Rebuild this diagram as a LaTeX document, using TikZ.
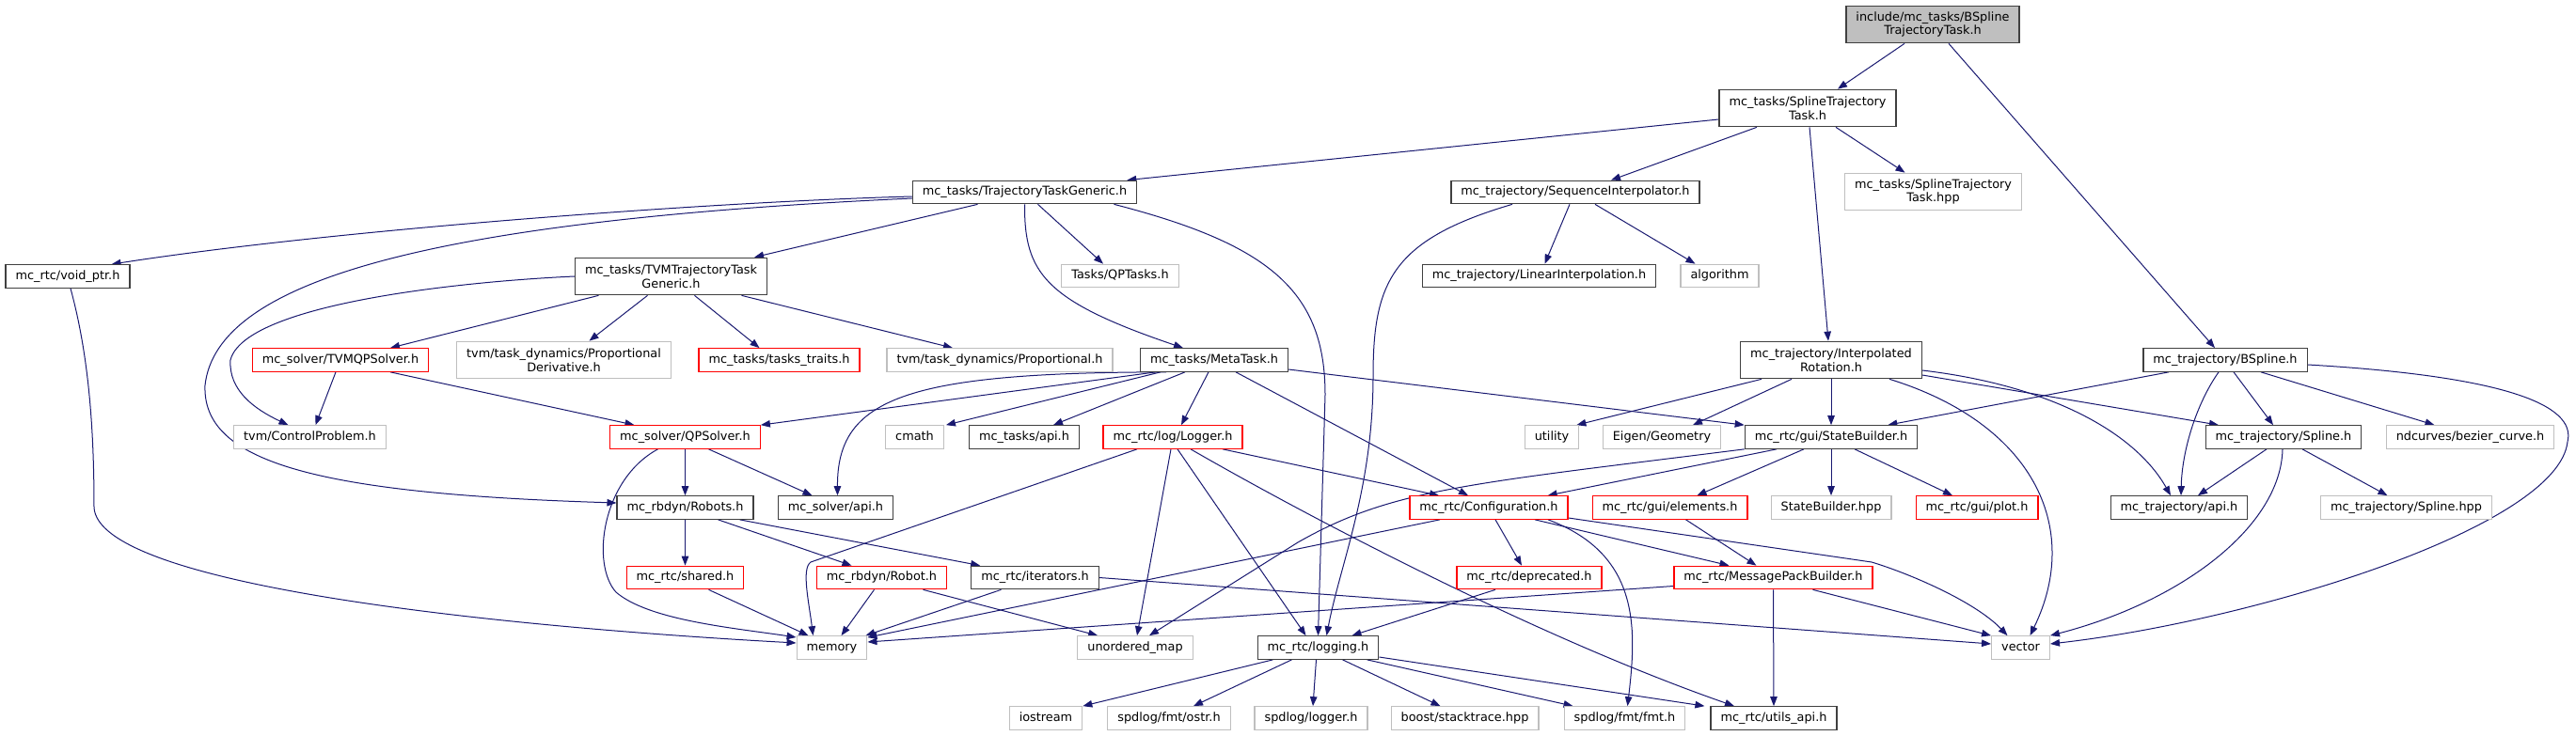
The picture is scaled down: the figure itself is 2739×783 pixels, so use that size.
\documentclass[tikz,border=0pt]{standalone}
\usepackage{fontspec}
\setmainfont{DejaVu Sans}
\usepackage{tikz}
\usetikzlibrary{arrows.meta,backgrounds}
\definecolor{doxyedge}{RGB}{25,25,112}
\definecolor{doxygray}{RGB}{191,191,191}
\definecolor{doxyred}{RGB}{255,0,0}
\definecolor{doxydark}{RGB}{64,64,64}

\tikzset{
  hdrbase/.style={draw=doxydark,line width=1.2pt,fill=white,inner xsep=10.5pt,inner ysep=2pt,
    font=\fontsize{12.85pt}{14.5pt}\selectfont,align=center},
  hdr/.style={hdrbase,minimum height=24.5pt,text height=9.5pt,text depth=3pt},
  syshdr/.style={hdr,draw=doxygray},
  redhdr/.style={hdr,draw=doxyred},
  hdrtwo/.style={hdrbase,minimum height=39.5pt},
  syshdrtwo/.style={hdrtwo,draw=doxygray},
  roothdr/.style={hdrtwo,fill=doxygray},
  inc/.style={doxyedge,line width=1pt,-{Triangle[length=10pt,width=7.5pt]}}
}

\begin{document}
\begin{tikzpicture}[x=1pt,y=-1pt]
  \useasboundingbox (0,0) rectangle (2739,783);
  % files, row by row
  \node[roothdr] (root) at (2055,26) {include/mc\_tasks/BSpline\\TrajectoryTask.h};
  \node[hdrtwo] (splTask) at (1922,115) {mc\_tasks/SplineTrajectory\\Task.h};
  \node[hdr] (ttg) at (1089.5,204.5) {mc\_tasks/TrajectoryTaskGeneric.h};
  \node[hdr] (seqInt) at (1675,204.5) {mc\_trajectory/SequenceInterpolator.h};
  \node[syshdrtwo] (splTaskHpp) at (2055.5,204) {mc\_tasks/SplineTrajectory\\Task.hpp};
  \node[hdr] (voidPtr) at (72,294) {mc\_rtc/void\_ptr.h};
  \node[hdrtwo] (tvmTTG) at (713.5,294) {mc\_tasks/TVMTrajectoryTask\\Generic.h};
  \node[syshdr] (qpTasks) at (1191,293.5) {Tasks/QPTasks.h};
  \node[hdr] (linInt) at (1636.5,293.5) {mc\_trajectory/LinearInterpolation.h};
  \node[syshdr] (algorithm) at (1828.5,293.5) {algorithm};
  \node[redhdr] (tvmQP) at (362,383) {mc\_solver/TVMQPSolver.h};
  \node[syshdrtwo] (propDeriv) at (599.5,383) {tvm/task\_dynamics/Proportional\\Derivative.h};
  \node[redhdr] (tasksTraits) at (828.5,383) {mc\_tasks/tasks\_traits.h};
  \node[syshdr] (prop) at (1063,383) {tvm/task\_dynamics/Proportional.h};
  \node[hdr] (metaTask) at (1291,383) {mc\_tasks/MetaTask.h};
  \node[hdrtwo] (interpRot) at (1947,383) {mc\_trajectory/Interpolated\\Rotation.h};
  \node[hdr] (bspline) at (2366,383) {mc\_trajectory/BSpline.h};
  \node[syshdr] (ctrlProb) at (329.5,465) {tvm/ControlProblem.h};
  \node[redhdr] (qpSolver) at (728.5,465) {mc\_solver/QPSolver.h};
  \node[syshdr] (cmath) at (972.5,465) {cmath};
  \node[hdr] (tasksApi) at (1089,465) {mc\_tasks/api.h};
  \node[redhdr] (logger) at (1247,465) {mc\_rtc/log/Logger.h};
  \node[syshdr] (utility) at (1650,465) {utility};
  \node[syshdr] (eigen) at (1767,465) {Eigen/Geometry};
  \node[hdr] (stateBuilder) at (1947,465) {mc\_rtc/gui/StateBuilder.h};
  \node[hdr] (spline) at (2428,465) {mc\_trajectory/Spline.h};
  \node[syshdr] (bezier) at (2626.5,465) {ndcurves/bezier\_curve.h};
  \node[hdr] (robots) at (728.5,540) {mc\_rbdyn/Robots.h};
  \node[hdr] (solverApi) at (888.5,540) {mc\_solver/api.h};
  \node[redhdr] (config) at (1583,540) {mc\_rtc/Configuration.h};
  \node[redhdr] (elements) at (1775.5,540) {mc\_rtc/gui/elements.h};
  \node[syshdr] (sbHpp) at (1947,540) {StateBuilder.hpp};
  \node[redhdr] (plot) at (2102,540) {mc\_rtc/gui/plot.h};
  \node[hdr] (trajApi) at (2317,540) {mc\_trajectory/api.h};
  \node[syshdr] (splineHpp) at (2558.5,540) {mc\_trajectory/Spline.hpp};
  \node[redhdr] (shared) at (728.5,614.5) {mc\_rtc/shared.h};
  \node[redhdr] (robot) at (937.5,614.5) {mc\_rbdyn/Robot.h};
  \node[hdr] (iterators) at (1100.5,614.5) {mc\_rtc/iterators.h};
  \node[redhdr] (deprecated) at (1626,614.5) {mc\_rtc/deprecated.h};
  \node[redhdr] (msgPack) at (1885.5,614.5) {mc\_rtc/MessagePackBuilder.h};
  \node[syshdr] (memory) at (884.5,689) {memory};
  \node[syshdr] (unordMap) at (1207,689) {unordered\_map};
  \node[hdr] (logging) at (1401.5,689) {mc\_rtc/logging.h};
  \node[syshdr] (vector) at (2148.5,689) {vector};
  \node[syshdr] (iostream) at (1112,764) {iostream};
  \node[syshdr] (ostr) at (1243,764) {spdlog/fmt/ostr.h};
  \node[syshdr] (spdLogger) at (1394,764) {spdlog/logger.h};
  \node[syshdr] (stacktrace) at (1557.5,764) {boost/stacktrace.hpp};
  \node[syshdr] (fmt) at (1727.5,764) {spdlog/fmt/fmt.h};
  \node[hdr] (utilsApi) at (1886,764) {mc\_rtc/utils\_api.h};

  \begin{scope}[on background layer]
    % top levels
    \draw[inc] ([xshift=-30pt]root.south) -- ([xshift=32pt]splTask.north);
    \draw[inc] ([xshift=17pt]root.south) -- ([xshift=-11pt]bspline.north);
    \draw[inc] ([yshift=-12pt]splTask.west) -- ([xshift=-11pt]ttg.north east);
    \draw[inc] ([xshift=-54pt]splTask.south) -- ([xshift=38pt]seqInt.north);
    \draw[inc] ([xshift=30pt]splTask.south) -- ([xshift=-30pt]splTaskHpp.north);
    \draw[inc] ([xshift=2pt]splTask.south) -- ([xshift=-3pt]interpRot.north);
    % TrajectoryTaskGeneric
    \draw[inc] ([yshift=-4.5pt]ttg.west) .. controls (750,215) and (350,245) .. ([xshift=-20pt]voidPtr.north east);
    \draw[inc] ([yshift=-6.5pt]ttg.west) .. controls (450,235) and (230,300) .. (218,410)
      .. controls (215,490) and (330,525) .. ([yshift=5pt]robots.west);
    \draw[inc] ([xshift=-50pt]ttg.south) -- ([xshift=-14pt]tvmTTG.north east);
    \draw[inc] ([xshift=14pt]ttg.south) -- ([xshift=-18pt]qpTasks.north);
    \draw[inc] (ttg.south) .. controls (1089,290) and (1110,320) .. ([xshift=-33pt]metaTask.north);
    \draw[inc] ([xshift=95pt]ttg.south) .. controls (1350,260) and (1409,310) .. (1409,420) -- (logging.north);
    % SequenceInterpolator
    \draw[inc] ([xshift=-67pt]seqInt.south) .. controls (1480,255) and (1460,300) .. (1460,400)
      .. controls (1460,520) and (1425,600) .. ([xshift=9pt]logging.north);
    \draw[inc] ([xshift=-6pt]seqInt.south) -- ([xshift=6pt]linInt.north);
    \draw[inc] ([xshift=21pt]seqInt.south) -- ([xshift=-26pt]algorithm.north);
    % TVMTrajectoryTaskGeneric
    \draw[inc] ([xshift=-77pt]tvmTTG.south) -- ([xshift=53pt]tvmQP.north);
    \draw[inc] ([xshift=-25pt]tvmTTG.south) -- ([xshift=27pt]propDeriv.north);
    \draw[inc] ([xshift=25pt]tvmTTG.south) -- ([xshift=-21pt]tasksTraits.north);
    \draw[inc] ([xshift=75pt]tvmTTG.south) -- ([xshift=-50pt]prop.north);
    \draw[inc] (tvmTTG.west) .. controls (480,300) and (260,325) .. (245,383)
      .. controls (243,415) and (270,435) .. ([xshift=-23pt]ctrlProb.north);
    \draw[inc] ([xshift=-5pt]tvmQP.south) -- ([xshift=6pt]ctrlProb.north);
    \draw[inc] ([xshift=53pt]tvmQP.south) -- ([xshift=-54pt]qpSolver.north);
    \draw[inc] ([xshift=3pt]voidPtr.south) .. controls (95,380) and (100,460) .. (100,540)
      .. controls (105,620) and (500,665) .. ([yshift=5pt]memory.west);
    % MetaTask
    \draw[inc] ([xshift=-62pt]metaTask.south) -- (qpSolver.north east);
    \draw[inc] ([xshift=-57pt]metaTask.south) -- ([xshift=2pt]cmath.north east);
    \draw[inc] ([xshift=-31pt]metaTask.south) -- ([xshift=31pt]tasksApi.north);
    \draw[inc] ([xshift=-6pt]metaTask.south) -- ([xshift=9pt]logger.north);
    \draw[inc] ([xshift=-51pt]metaTask.south) .. controls (960,396) and (890,425) .. ([xshift=2pt]solverApi.north);
    \draw[inc] ([xshift=23pt]metaTask.south) -- ([xshift=-22pt]config.north);
    \draw[inc] ([yshift=-10pt]metaTask.east) -- (stateBuilder.north west);
    % InterpolatedRotation
    \draw[inc] ([xshift=-74pt]interpRot.south) -- ([xshift=-3pt]utility.north east);
    \draw[inc] ([xshift=-42pt]interpRot.south) -- ([xshift=33pt]eigen.north);
    \draw[inc] (interpRot.south) -- (stateBuilder.north);
    \draw[inc] ([yshift=-16pt]interpRot.east) -- ([xshift=-69pt]spline.north);
    \draw[inc] ([yshift=-11pt]interpRot.east) .. controls (2180,410) and (2270,460) .. ([xshift=-9pt]trajApi.north);
    \draw[inc] ([xshift=62pt]interpRot.south) .. controls (2160,450) and (2215,560) .. ([xshift=10pt]vector.north);
    % BSpline
    \draw[inc] ([xshift=-60pt]bspline.south) -- ([xshift=-32pt]stateBuilder.north east);
    \draw[inc] ([xshift=-7pt]bspline.south) .. controls (2335,430) and (2320,480) .. ([xshift=2pt]trajApi.north);
    \draw[inc] ([xshift=9pt]bspline.south) -- ([xshift=-11pt]spline.north);
    \draw[inc] ([xshift=38pt]bspline.south) -- ([xshift=-38pt]bezier.north);
    \draw[inc] ([yshift=-5pt]bspline.east) .. controls (2660,400) and (2740,430) .. (2730,470)
      .. controls (2720,560) and (2400,660) .. ([yshift=4pt]vector.east);
    % QPSolver and robots
    \draw[inc] (qpSolver.south) -- (robots.north);
    \draw[inc] ([xshift=25pt]qpSolver.south) -- ([xshift=-25pt]solverApi.north);
    \draw[inc] ([xshift=-29pt]qpSolver.south) .. controls (640,510) and (628,600) .. (655,630)
      .. controls (690,660) and (780,668) .. ([yshift=11pt]memory.west);
    \draw[inc] (robots.south) -- (shared.north);
    \draw[inc] ([xshift=35pt]robots.south) -- ([xshift=-32pt]robot.north);
    \draw[inc] ([xshift=58pt]robots.south) -- ([xshift=10pt]iterators.north west);
    \draw[inc] ([xshift=25pt]shared.south) -- ([xshift=13pt]memory.north west);
    \draw[inc] ([xshift=-8pt]robot.south) -- ([xshift=10pt]memory.north);
    \draw[inc] ([xshift=44pt]robot.south) -- ([xshift=22pt]unordMap.north west);
    \draw[inc] ([xshift=-36pt]iterators.south) -- ([xshift=-2pt]memory.north east);
    \draw[inc] (iterators.east) -- ([yshift=4pt]vector.west);
    % Logger
    \draw[inc] ([xshift=-38pt]logger.south) -- (862,598) .. controls (852,605) and (860,640) .. ([xshift=-20pt]memory.north);
    \draw[inc] ([xshift=-2pt]logger.south) -- ([xshift=2pt]unordMap.north);
    \draw[inc] ([xshift=5pt]logger.south) -- ([xshift=-13pt]logging.north);
    \draw[inc] ([xshift=53pt]logger.south) -- ([xshift=-53pt]config.north);
    \draw[inc] ([xshift=19pt]logger.south) .. controls (1400,555) and (1640,680) .. ([xshift=-42pt]utilsApi.north);
    % StateBuilder
    \draw[inc] ([xshift=-58pt]stateBuilder.south) -- ([xshift=-22pt]config.north east);
    \draw[inc] (stateBuilder.south west) .. controls (1560,515) and (1480,520) .. (1380,577) -- ([xshift=15pt]unordMap.north);
    \draw[inc] ([xshift=-29pt]stateBuilder.south) -- ([xshift=29pt]elements.north);
    \draw[inc] (stateBuilder.south) -- (sbHpp.north);
    \draw[inc] ([xshift=25pt]stateBuilder.south) -- ([xshift=-26pt]plot.north);
    % Spline
    \draw[inc] ([xshift=-18pt]spline.south) -- ([xshift=20pt]trajApi.north);
    \draw[inc] ([xshift=20pt]spline.south) -- ([xshift=-20pt]splineHpp.north);
    \draw[inc] ([xshift=-1pt]spline.south) .. controls (2425,560) and (2320,640) .. (vector.north east);
    % Configuration
    \draw[inc] ([xshift=7pt]config.south) -- ([xshift=-8pt]deprecated.north);
    \draw[inc] ([xshift=49pt]config.south) -- ([xshift=-47pt]msgPack.north);
    \draw[inc] ([xshift=63pt]config.south) .. controls (1745,590) and (1740,670) .. ([xshift=3pt]fmt.north);
    \draw[inc] ([yshift=-11pt]config.east) -- (1990,598) .. controls (2030,610) and (2100,640) .. ([xshift=-14pt]vector.north);
    \draw[inc] ([xshift=-52pt]config.south) -- ([yshift=-2pt]memory.north east);
    \draw[inc] ([xshift=17pt]elements.south) -- ([xshift=-18pt]msgPack.north);
    \draw[inc] ([xshift=-36pt]deprecated.south) -- ([xshift=36pt]logging.north);
    % MessagePackBuilder
    \draw[inc] ([yshift=-9pt]msgPack.west) -- ([yshift=6pt]memory.east);
    \draw[inc] ([xshift=42pt]msgPack.south) -- (vector.north west);
    \draw[inc] (msgPack.south) -- (utilsApi.north);
    % logging
    \draw[inc] ([xshift=-48pt]logging.south) -- (iostream.north east);
    \draw[inc] ([xshift=-28pt]logging.south) -- ([xshift=26pt]ostr.north);
    \draw[inc] ([xshift=-2pt]logging.south) -- ([xshift=2pt]spdLogger.north);
    \draw[inc] ([xshift=26pt]logging.south) -- ([xshift=-26pt]stacktrace.north);
    \draw[inc] ([xshift=52pt]logging.south) -- ([xshift=10pt]fmt.north west);
    \draw[inc] ([yshift=-10pt]logging.east) -- ([xshift=-6pt]utilsApi.north west);
  \end{scope}
\end{tikzpicture}
\end{document}
